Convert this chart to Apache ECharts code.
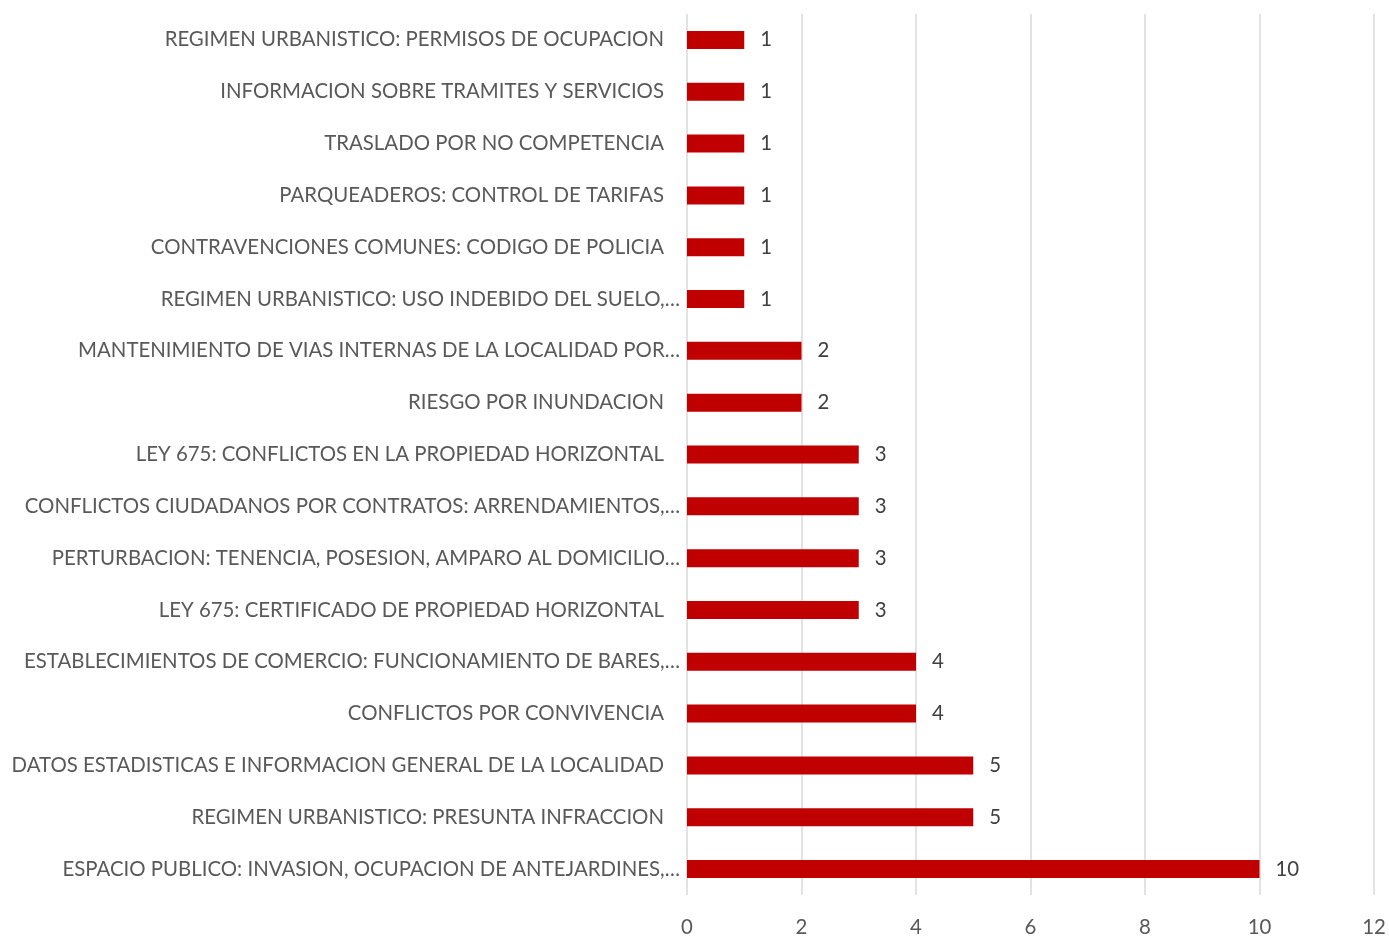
<!DOCTYPE html>
<html>
<head>
<meta charset="utf-8">
<script src="https://cdn.jsdelivr.net/npm/echarts@6/dist/echarts.min.js"></script>
<style>
  html, body { margin: 0; padding: 0; background: #fff; }
  #chart { width: 1389px; height: 937px; }
</style>
</head>
<body>
<div id="chart"></div>
<script>
  // categories bottom to top
  var categories = [
    'ESPACIO PUBLICO: INVASION, OCUPACION DE ANTEJARDINES,…',
    'REGIMEN URBANISTICO: PRESUNTA INFRACCION',
    'DATOS ESTADISTICAS E INFORMACION GENERAL DE LA LOCALIDAD',
    'CONFLICTOS POR CONVIVENCIA',
    'ESTABLECIMIENTOS DE COMERCIO: FUNCIONAMIENTO DE BARES,…',
    'LEY 675: CERTIFICADO DE PROPIEDAD HORIZONTAL',
    'PERTURBACION: TENENCIA, POSESION, AMPARO AL DOMICILIO…',
    'CONFLICTOS CIUDADANOS POR CONTRATOS: ARRENDAMIENTOS,…',
    'LEY 675: CONFLICTOS EN LA PROPIEDAD HORIZONTAL',
    'RIESGO POR INUNDACION',
    'MANTENIMIENTO DE VIAS INTERNAS DE LA LOCALIDAD POR…',
    'REGIMEN URBANISTICO: USO INDEBIDO DEL SUELO,…',
    'CONTRAVENCIONES COMUNES: CODIGO DE POLICIA',
    'PARQUEADEROS: CONTROL DE TARIFAS',
    'TRASLADO POR NO COMPETENCIA',
    'INFORMACION SOBRE TRAMITES Y SERVICIOS',
    'REGIMEN URBANISTICO: PERMISOS DE OCUPACION'
  ]
  var values = [10, 5, 5, 4, 4, 3, 3, 3, 3, 2, 2, 1, 1, 1, 1, 1, 1]

  var chart = echarts.init(document.getElementById('chart'))
  var font = 'Lato, "Open Sans", sans-serif'
  var textStyle = {color: '#595959', fontSize: 20.4, fontFamily: font}
  chart.setOption({
    animation: false,
    grid: {
      left: 687,
      right: 15,
      top: 14,
      bottom: 40
    },
    xAxis: {
      type: 'value',
      min: 0,
      max: 12,
      interval: 2,
      axisLine: {show: false},
      axisTick: {show: false},
      axisLabel: Object.assign({margin: 22}, textStyle),
      splitLine: {
        lineStyle: {color: '#d9d9d9', width: 1.5}
      }
    },
    yAxis: {
      type: 'category',
      data: categories,
      axisLine: {show: false},
      axisTick: {show: false},
      axisLabel: Object.assign({
        margin: 7,
        // truncated labels (Excel style) run closer to the axis
        formatter: function (v) {
          return v.slice(-1) === '…' ? '{e|' + v + '}' : '{p|' + v + '}'
        },
        rich: {
          e: Object.assign({}, textStyle),
          p: Object.assign({padding: [0, 16, 0, 0]}, textStyle)
        }
      }, textStyle)
    },
    series: [{
      type: 'bar',
      data: values,
      barWidth: 18,
      itemStyle: {color: '#c00000'},
      label: {
        show: true,
        position: 'right',
        distance: 16,
        color: '#404040',
        fontSize: 20.4,
        fontFamily: font
      }
    }]
  })
</script>
</body>
</html>
